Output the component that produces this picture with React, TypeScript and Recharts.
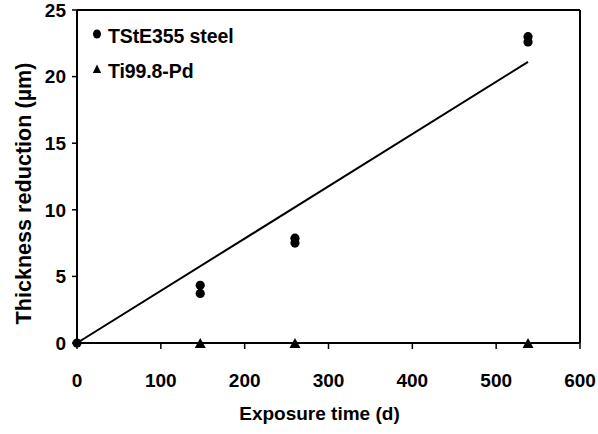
import React from "react";
import {
  ComposedChart,
  Scatter,
  XAxis,
  YAxis,
  ReferenceLine,
  Label,
} from "recharts";

// exposure time (d) vs thickness reduction (µm)
const steelPoints = [
  { x: 0, y: 0 },
  { x: 147, y: 4.33 },
  { x: 147, y: 3.72 },
  { x: 260, y: 7.87 },
  { x: 260, y: 7.5 },
  { x: 538, y: 23.0 },
  { x: 538, y: 22.6 },
];

const titaniumPoints = [
  { x: 147, y: 0 },
  { x: 260, y: 0 },
  { x: 538, y: 0 },
];

// linear fit through the steel data
const trendLine = [
  { x: 0, y: 0 },
  { x: 538, y: 21.1 },
];

const xTicks = [0, 100, 200, 300, 400, 500, 600];
const yTicks = [0, 5, 10, 15, 20, 25];

const FONT = "'Liberation Sans', Arial, sans-serif";
const tickStyle = { fill: "#000", fontSize: 19, fontWeight: 700, fontFamily: FONT };

const Dot = (props: any) => <circle cx={props.cx} cy={props.cy} r={4.6} fill="#000" />;

const Tri = (props: any) => {
  const { cx, cy } = props;
  return <polygon points={`${cx},${cy - 5} ${cx - 5.5},${cy + 5} ${cx + 5.5},${cy + 5}`} fill="#000" />;
};

const Nothing = () => <g />;

function LegendBox() {
  const row: React.CSSProperties = {
    display: "flex",
    alignItems: "center",
    height: 35,
    fontFamily: FONT,
    fontWeight: 700,
    fontSize: 19.5,
    color: "#000",
    letterSpacing: -0.1,
    whiteSpace: "nowrap",
  };
  const icon: React.CSSProperties = { marginRight: 5, position: "relative", top: -3 };
  return (
    <div style={{ position: "absolute", left: 91, top: 19 }}>
      <div style={row}>
        <svg width={12} height={12} style={icon}>
          <ellipse cx={6} cy={6} rx={4} ry={4.5} fill="#000" />
        </svg>
        TStE355 steel
      </div>
      <div style={row}>
        <svg width={12} height={12} style={icon}>
          <polygon points="6,1.5 1.8,10 10.2,10" fill="#000" />
        </svg>
        Ti99.8-Pd
      </div>
    </div>
  );
}

export default function App() {
  return (
    <div style={{ position: "absolute", left: 0, top: 0, width: 598, height: 434, background: "#fff" }}>
      <ComposedChart width={598} height={434} margin={{ top: 10, right: 18, left: 0, bottom: 0 }}>
        <XAxis
          type="number"
          dataKey="x"
          domain={[0, 600]}
          ticks={xTicks}
          interval={0}
          height={91}
          tickSize={6}
          tickMargin={25}
          tick={tickStyle}
          axisLine={{ stroke: "#000", strokeWidth: 2 }}
          tickLine={{ stroke: "#000", strokeWidth: 1.5 }}
        >
          <Label
            content={({ viewBox }: any) => (
              <text
                x={viewBox.x + viewBox.width / 2 - 9}
                y={viewBox.y + 77}
                textAnchor="middle"
                style={{ ...tickStyle }}
              >
                Exposure time (d)
              </text>
            )}
          />
        </XAxis>
        <YAxis
          type="number"
          dataKey="y"
          domain={[0, 25]}
          ticks={yTicks}
          interval={0}
          width={77}
          tickSize={5}
          tickMargin={6}
          tick={tickStyle}
          axisLine={{ stroke: "#000", strokeWidth: 2 }}
          tickLine={{ stroke: "#000", strokeWidth: 1.5 }}
        >
          <Label
            content={({ viewBox }: any) => {
              const cx = viewBox.x + 23;
              const cy = viewBox.y + viewBox.height / 2 + 17;
              return (
                <text
                  x={cx}
                  y={cy}
                  textAnchor="middle"
                  dominantBaseline="central"
                  transform={`rotate(-90 ${cx} ${cy})`}
                  style={{ ...tickStyle, fontSize: 21.6 }}
                >
                  Thickness reduction (µm)
                </text>
              );
            }}
          />
        </YAxis>
        <ReferenceLine y={25} stroke="#000" strokeWidth={2} />
        <ReferenceLine x={600} stroke="#000" strokeWidth={2} />
        <Scatter
          name="fit"
          data={trendLine}
          line={{ stroke: "#000", strokeWidth: 2 }}
          shape={<Nothing />}
          legendType="none"
          isAnimationActive={false}
        />
        <Scatter name="TStE355 steel" data={steelPoints} shape={<Dot />} isAnimationActive={false} />
        <Scatter name="Ti99.8-Pd" data={titaniumPoints} shape={<Tri />} isAnimationActive={false} />
      </ComposedChart>
      <LegendBox />
    </div>
  );
}
